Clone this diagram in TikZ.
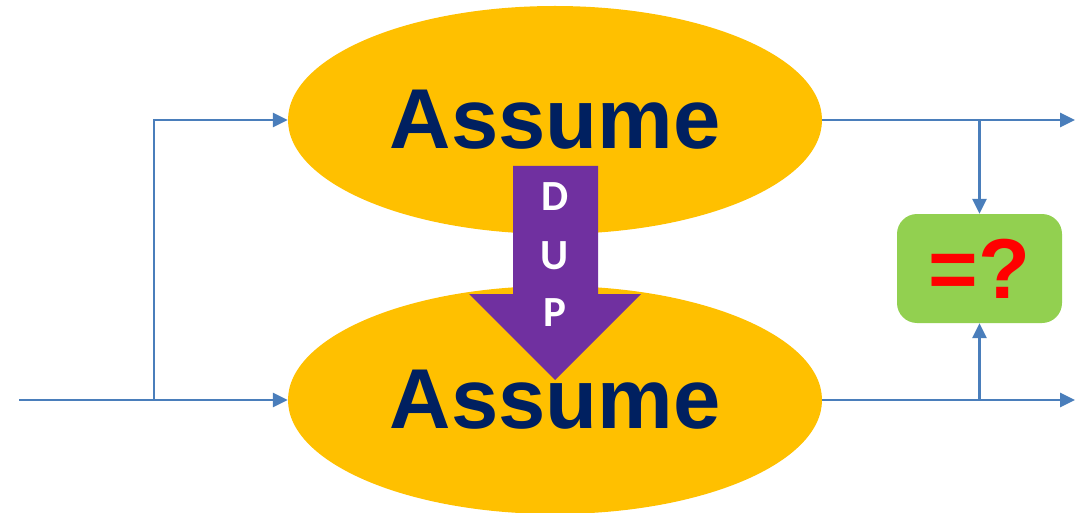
\documentclass[tikz,border=0pt]{standalone}
\usepackage{fontspec}
\setmainfont{Liberation Sans}
\newfontfamily\dupfont{Carlito}
\usetikzlibrary{shapes.geometric,arrows.meta}
\definecolor{gold}{HTML}{FFC000}
\definecolor{navy}{HTML}{002060}
\definecolor{violet}{HTML}{7030A0}
\definecolor{leaf}{HTML}{92D050}
\definecolor{wireblue}{HTML}{4A7EBB}
\begin{document}
\begin{tikzpicture}[x=1pt,y=-1pt,
  assume/.style={ellipse, fill=gold, minimum width=534pt, minimum height=228pt,
    inner sep=0pt, text=navy, font=\fontsize{85}{85}\selectfont\bfseries},
  cmpbox/.style={rectangle, rounded corners=20pt, fill=leaf, minimum width=165pt,
    minimum height=109pt, inner sep=0pt, text=red, font=\fontsize{85}{85}\selectfont\bfseries},
  wire/.style={draw=wireblue, line width=2.8pt, line join=miter,
    -{Triangle[length=15pt,width=14pt]}},
  dupletter/.style={text=white, anchor=base, inner sep=0pt,
    font=\dupfont\fontsize{43}{43}\selectfont\bfseries}
]
\useasboundingbox (0,0) rectangle (1089,513);

% the two Assume ellipses
\node[assume] (top) at (555,120) {Assume};
\node[assume] (bot) at (555,400) {Assume};

% comparison box
\node[cmpbox] (cmp) at (979.5,268.5) {=?};

% DUP block arrow between the ellipses
\fill[violet] (513,166) -- (598,166) -- (598,294) -- (641,294) -- (555,380)
  -- (469,294) -- (513,294) -- cycle;
\node[dupletter] (d) at (555,211) {D};
\node[dupletter] (u) at (555,269) {U};
\node[dupletter] (p) at (555,326) {P};

% input and its fork
\coordinate (in) at (19,400);
\coordinate (fork) at (154,400);
\draw[wire] (in) -- (bot.west);
\draw[wire] (fork) |- (top.west);

% outputs and taps into the comparison
\coordinate (outT) at (1075,120);
\coordinate (outB) at (1075,400);
\coordinate (tapT) at (979.5,120);
\coordinate (tapB) at (979.5,400);
\draw[wire] (top.east) -- (outT);
\draw[wire] (bot.east) -- (outB);
\draw[wire] (tapT) -- (cmp.north);
\draw[wire] (tapB) -- (cmp.south);
\end{tikzpicture}
\end{document}
